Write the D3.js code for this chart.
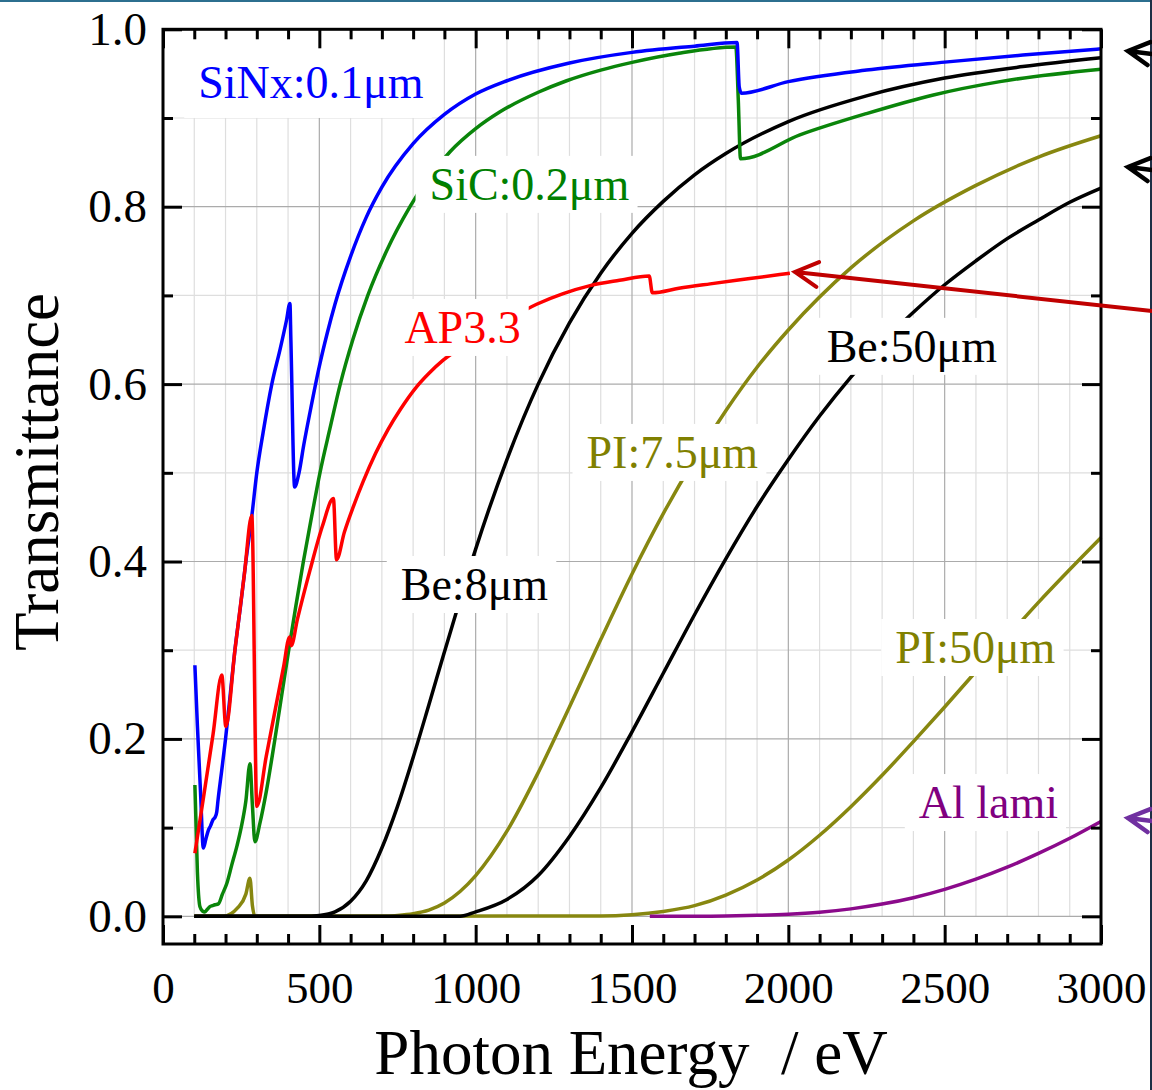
<!DOCTYPE html>
<html><head><meta charset="utf-8">
<script src="https://cdn.jsdelivr.net/npm/d3@7"></script>
<style>body{margin:0;background:#fff}svg{display:block}text{font-family:"Liberation Serif","Times New Roman",serif}</style>
</head><body><svg id="c" width="1152" height="1090"></svg>
<script>
// ---------- data ----------
const xMajorTicks = [0, 500, 1000, 1500, 2000, 2500, 3000];
const yMajorTicks = [0.0, 0.2, 0.4, 0.6, 0.8, 1.0];
const xTitle = "Photon Energy  / eV";
const yTitle = "Transmittance";

const sinxE = [102,110,120,129,137,145,152,160,167,172,176,188,200,215,230,248,265,284,300,320,348,375,395,406,409,421,435,450,470,500,525,550,600,650,700,800,900,1000,1100,1300,1500,1700,1836,1843,1850,2000,2250,2500,2750,3000];
const sinxT = [0.283,0.215,0.14,0.077,0.087,0.097,0.102,0.109,0.112,0.118,0.131,0.165,0.2,0.25,0.3,0.35,0.4,0.451,0.5,0.545,0.6,0.64,0.672,0.691,0.65,0.484,0.5,0.531,0.568,0.62,0.657,0.69,0.744,0.788,0.822,0.871,0.904,0.927,0.942,0.962,0.974,0.981,0.985,0.935,0.928,0.941,0.954,0.963,0.971,0.978];

const sicE = [102,110,118,126,134,142,150,158,166,177,190,204,220,237,250,265,278,286,294,310,330,358,380,402,425,449,475,502,534,567,607,655,715,790,850,918,1000,1078,1200,1291,1400,1504,1650,1832,1840,1847,2037,2250,2464,2677,3000];
const sicT = [0.148,0.05,0.011,0.006,0.005,0.008,0.011,0.012,0.013,0.014,0.025,0.037,0.058,0.08,0.1,0.13,0.172,0.125,0.084,0.105,0.14,0.2,0.25,0.3,0.35,0.4,0.45,0.5,0.55,0.6,0.65,0.7,0.75,0.8,0.833,0.862,0.888,0.907,0.929,0.942,0.954,0.963,0.973,0.98,0.92,0.854,0.881,0.905,0.926,0.941,0.955];

const apE = [102,130,160,188,201,230,260,284,300,330,360,385,405,410,430,470,510,545,555,580,610,640,680,720,760,811,850,896,1000,1100,1195,1280,1366,1460,1555,1565,1650,1750,1877,2005];
const apT = [0.071,0.135,0.205,0.272,0.214,0.3,0.385,0.452,0.124,0.18,0.235,0.28,0.315,0.305,0.335,0.39,0.44,0.471,0.402,0.433,0.463,0.49,0.522,0.549,0.572,0.597,0.612,0.627,0.651,0.672,0.69,0.702,0.711,0.717,0.722,0.703,0.708,0.713,0.719,0.725];

const be8E = [100,450,500,550,600,650,700,750,800,850,900,950,1000,1100,1200,1300,1400,1500,1600,1700,1800,2000,2250,2500,2750,3000];
const be8T = [0,0,0.001,0.005,0.017,0.04,0.077,0.124,0.179,0.238,0.298,0.357,0.414,0.515,0.6,0.669,0.725,0.77,0.806,0.836,0.86,0.896,0.925,0.945,0.958,0.968];

const be50E = [100,950,1000,1100,1200,1300,1400,1500,1600,1700,1800,1900,2000,2100,2200,2300,2400,2500,2600,2700,2800,2900,3000];
const be50T = [0,0,0.005,0.019,0.046,0.09,0.145,0.208,0.274,0.34,0.403,0.462,0.515,0.564,0.608,0.647,0.681,0.712,0.739,0.764,0.785,0.805,0.821];

const pi7E = [100,192,240,265,278,286,294,700,750,800,850,900,950,1000,1100,1200,1300,1400,1500,1600,1700,1800,1900,2000,2200,2400,2600,2800,3000];
const pi7T = [0,0,0.01,0.025,0.043,0.012,0,0,0.001,0.003,0.007,0.015,0.028,0.046,0.096,0.162,0.236,0.312,0.386,0.454,0.515,0.57,0.619,0.661,0.731,0.784,0.824,0.856,0.88];

const pi50E = [100,1400,1500,1600,1700,1800,1900,2000,2100,2200,2300,2400,2500,2600,2700,2800,2900,3000];
const pi50T = [0,0.0004,0.0018,0.0055,0.012,0.024,0.041,0.0635,0.0914,0.1236,0.159,0.197,0.236,0.276,0.315,0.354,0.391,0.427];

const alE = [1557,1700,1800,1900,2000,2100,2200,2300,2400,2500,2600,2700,2800,2900,3000];
const alT = [0,0.0001,0.0004,0.0011,0.0024,0.0047,0.0084,0.0138,0.021,0.0304,0.0419,0.0554,0.0709,0.088,0.107];

const labelText  = ["SiNx:0.1\u03bcm","SiC:0.2\u03bcm","AP3.3","Be:50\u03bcm","PI:7.5\u03bcm","Be:8\u03bcm","PI:50\u03bcm","Al lami"];
const labelE     = [473, 1172, 958, 2395, 1629, 996, 2598, 2640];
const labelT     = [0.9226, 0.8077, 0.6464, 0.6251, 0.5055, 0.3566, 0.2856, 0.1108];
const labelColor = ["#0000ff","#008000","#ff0000","#000000","#808000","#000000","#808000","#800080"];

// ---------- drawing ----------
const svg = d3.select("#c");
const x = d3.scaleLinear().domain([0, 3000]).range([163, 1101]);
const y = d3.scaleLinear().domain([-0.0312, 1]).range([944, 29.3]);

// slide decorations
svg.append("rect").attr("x",0).attr("y",0).attr("width",1152).attr("height",2).attr("fill","#2c6f8f");
svg.append("rect").attr("x",1150).attr("y",0).attr("width",2).attr("height",1090).attr("fill","#1d2f45");

// grid
const g = svg.append("g");
const xMinor = d3.range(100, 3000, 100).filter(v => v % 500 !== 0);
const xMajorInner = xMajorTicks.filter(v => v > 0 && v < 3000);
const yMinor = d3.range(1, 10, 2).map(v => v / 10);
const yMajorInner = [0.0, 0.2, 0.4, 0.6, 0.8];
g.selectAll(".gxm").data(xMinor).join("line")
  .attr("x1", d => x(d)).attr("x2", d => x(d)).attr("y1", y(0)).attr("y2", y(1))
  .attr("stroke", "#dedede").attr("stroke-width", 1.2);
g.selectAll(".gym").data(yMinor).join("line")
  .attr("y1", d => y(d)).attr("y2", d => y(d)).attr("x1", x(0)).attr("x2", x(3000))
  .attr("stroke", "#dedede").attr("stroke-width", 1.2);
g.selectAll(".gxM").data(xMajorInner).join("line")
  .attr("x1", d => x(d)).attr("x2", d => x(d)).attr("y1", y(0)).attr("y2", y(1))
  .attr("stroke", "#ababab").attr("stroke-width", 1.2);
g.selectAll(".gyM").data(yMajorInner).join("line")
  .attr("y1", d => y(d)).attr("y2", d => y(d)).attr("x1", x(0)).attr("x2", x(3000))
  .attr("stroke", "#ababab").attr("stroke-width", 1.2);

// curves
const line = d3.line().x(d => x(d[0])).y(d => y(d[1])).curve(d3.curveMonotoneX);
const series = [
  [pi50E, pi50T, "#878710"],
  [pi7E, pi7T, "#878710"],
  [be50E, be50T, "#000000"],
  [be8E, be8T, "#000000"],
  [alE, alT, "#8b0a8b"],
  [sicE, sicT, "#0a850a"],
  [sinxE, sinxT, "#0000ff"],
  [apE, apT, "#ff0000"]
];
series.forEach(([E, T, c]) => {
  svg.append("path").datum(E.map((e, i) => [e, T[i]]))
    .attr("d", line).attr("fill", "none").attr("stroke", c)
    .attr("stroke-width", 3.5).attr("stroke-linejoin", "round");
});

// labels with white boxes
labelText.forEach((t, i) => {
  const lg = svg.append("g");
  const rect = lg.append("rect").attr("fill", "#fff");
  const tx = lg.append("text").attr("x", x(labelE[i])).attr("y", y(labelT[i]))
    .attr("text-anchor", "middle").attr("font-size", 46).attr("fill", labelColor[i]).text(t);
  const b = tx.node().getBBox();
  let top = b.y - 3, bot = b.y + b.height + 3;
  if (i === 0) { top = y(1); bot = b.y + b.height + 10; }
  rect.attr("x", b.x - 14).attr("y", top).attr("width", b.width + 22).attr("height", bot - top);
});

// frame and ticks
const axisStyle = sel => { sel.selectAll("line").attr("stroke", "#000").attr("stroke-width", 3); sel.select(".domain").remove(); };
const bottomMaj = svg.append("g").attr("transform", `translate(0,${y.range()[0]})`)
  .call(d3.axisBottom(x).tickValues(xMajorTicks).tickSize(-19).tickSizeOuter(0).tickPadding(27).tickFormat(d3.format("d")));
bottomMaj.call(axisStyle);
bottomMaj.selectAll("text").attr("font-size", 45).attr("fill", "#000").attr("font-family", "Liberation Serif");
svg.append("g").attr("transform", `translate(0,${y.range()[0]})`)
  .call(d3.axisBottom(x).tickValues(xMinor).tickSize(-10).tickSizeOuter(0).tickFormat("")).call(axisStyle);
svg.append("g").attr("transform", `translate(0,${y(1)})`)
  .call(d3.axisTop(x).tickValues(xMajorTicks).tickSize(-19).tickSizeOuter(0).tickFormat("")).call(axisStyle);
svg.append("g").attr("transform", `translate(0,${y(1)})`)
  .call(d3.axisTop(x).tickValues(xMinor).tickSize(-10).tickSizeOuter(0).tickFormat("")).call(axisStyle);

const leftMaj = svg.append("g").attr("transform", `translate(${x(0)},0)`)
  .call(d3.axisLeft(y).tickValues(yMajorTicks).tickSize(-19).tickSizeOuter(0).tickPadding(16).tickFormat(d3.format(".1f")));
leftMaj.call(axisStyle);
leftMaj.selectAll("text").attr("font-size", 47).attr("fill", "#000").attr("font-family", "Liberation Serif");
svg.append("g").attr("transform", `translate(${x(0)},0)`)
  .call(d3.axisLeft(y).tickValues(yMinor).tickSize(-10).tickSizeOuter(0).tickFormat("")).call(axisStyle);
svg.append("g").attr("transform", `translate(${x(3000)},0)`)
  .call(d3.axisRight(y).tickValues(yMajorTicks).tickSize(-19).tickSizeOuter(0).tickFormat("")).call(axisStyle);
svg.append("g").attr("transform", `translate(${x(3000)},0)`)
  .call(d3.axisRight(y).tickValues(yMinor).tickSize(-10).tickSizeOuter(0).tickFormat("")).call(axisStyle);

svg.append("rect").attr("x", x(0)).attr("y", y(1)).attr("width", x(3000) - x(0)).attr("height", y.range()[0] - y(1))
  .attr("fill", "none").attr("stroke", "#000").attr("stroke-width", 3);

// axis titles
svg.append("text").attr("x", 631).attr("y", 1074).attr("text-anchor", "middle")
  .attr("font-size", 63).style("white-space", "pre").text(xTitle);
svg.append("text").attr("transform", "translate(58,472) rotate(-90)").attr("text-anchor", "middle")
  .attr("font-size", 63).text(yTitle);

// arrows
function arrow(tip, tail, color, w, len) {
  const a = Math.atan2(tail[1] - tip[1], tail[0] - tip[0]);
  const h = 0.5;
  const p1 = [tip[0] + len * Math.cos(a + h), tip[1] + len * Math.sin(a + h)];
  const p2 = [tip[0] + len * Math.cos(a - h), tip[1] + len * Math.sin(a - h)];
  svg.append("path").attr("d", `M${tail}L${tip}M${p1}L${tip}L${p2}`)
    .attr("fill", "none").attr("stroke", color).attr("stroke-width", w)
    .attr("stroke-linecap", "round").attr("stroke-linejoin", "miter");
}
arrow([1128, 51], [1152, 54], "#000", 4.5, 24);
arrow([1128, 167], [1152, 170], "#000", 4.5, 24);
arrow([1128, 818], [1152, 821], "#7030a0", 4.5, 24);
arrow([795, 272], [1152, 311], "#c00000", 4, 26);
</script></body></html>
